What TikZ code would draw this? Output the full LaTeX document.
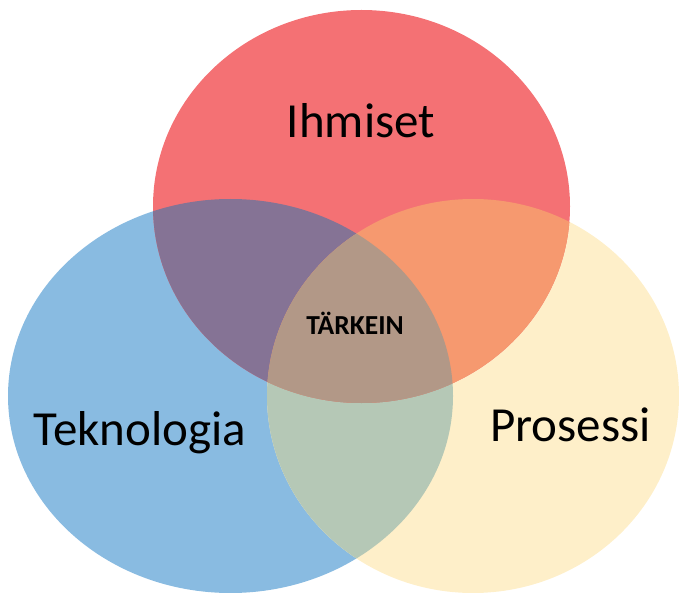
\documentclass[tikz,border=0pt]{standalone}
\usepackage{fontspec}
\setmainfont{Carlito}

% Solid fills for each region of the three-set diagram
\definecolor{cRed}{HTML}{F47174}
\definecolor{cBlue}{HTML}{89BBE1}
\definecolor{cYellow}{HTML}{FEEFC9}
\definecolor{cRedBlue}{HTML}{857395}
\definecolor{cRedYellow}{HTML}{F6996F}
\definecolor{cBlueYellow}{HTML}{B5C8B6}
\definecolor{cAll}{HTML}{B29887}

\begin{document}
\begin{tikzpicture}[x=1pt,y=1pt,
  setlabel/.style={font=\fontsize{49}{49}\selectfont, text=black, inner sep=0pt, anchor=base},
  corelabel/.style={font=\bfseries\fontsize{27.5}{27.5}\selectfont, text=black, inner sep=0pt, anchor=base}]
\useasboundingbox (0,0) rectangle (679,592);
\clip (0,0) rectangle (679,592);

\def\ihmE{(361.5,385.5) ellipse [x radius=208.5, y radius=196.5]}
\def\tekE{(230.5,196) ellipse [x radius=222.5, y radius=197]}
\def\proE{(473,196) ellipse [x radius=206, y radius=197]}

% single sets
\fill[cBlue] \tekE;
\fill[cYellow] \proE;
\fill[cRed] \ihmE;

% pairwise overlaps
\begin{scope}
  \clip \tekE;
  \fill[cBlueYellow] \proE;
\end{scope}
\begin{scope}
  \clip \ihmE;
  \fill[cRedBlue] \tekE;
\end{scope}
\begin{scope}
  \clip \ihmE;
  \fill[cRedYellow] \proE;
\end{scope}

% common core
\begin{scope}
  \clip \ihmE;
  \clip \tekE;
  \fill[cAll] \proE;
\end{scope}

% labels
\node[setlabel] (ihmiset) at (361,454) {Ihmiset};
\node[setlabel] (teknologia) at (140,147) {Teknologia};
\node[setlabel] (prosessi) at (570.5,151) {Prosessi};
\node[corelabel] (tarkein) at (355,258) {TÄRKEIN};
\end{tikzpicture}
\end{document}
